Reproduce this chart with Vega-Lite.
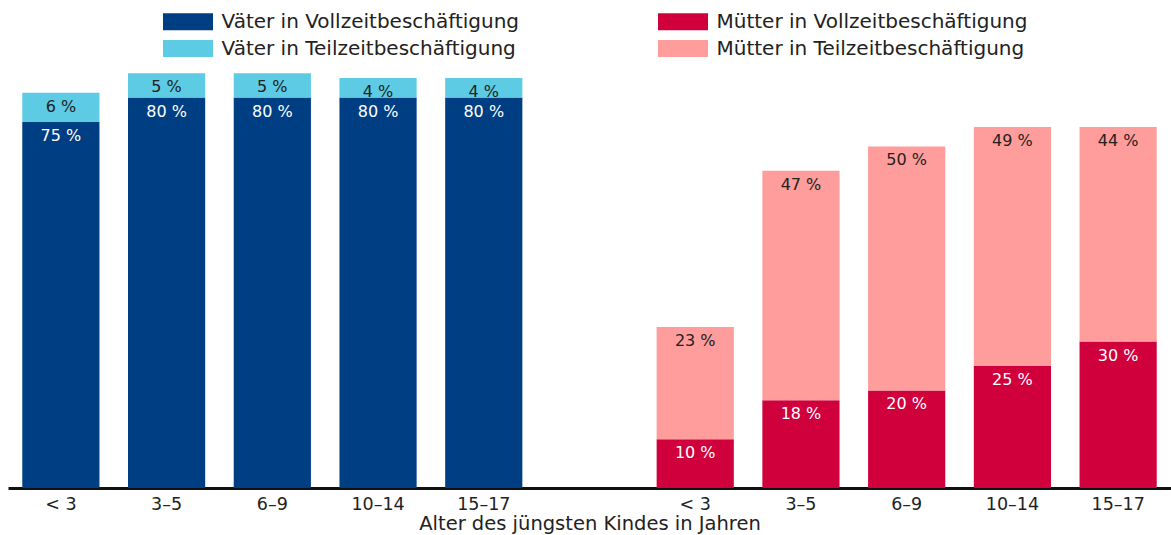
{
  "$schema": "https://vega.github.io/schema/vega-lite/v6.json",
  "width": 1163,
  "height": 488,
  "autosize": {"type": "none"},
  "padding": {"left": 8, "top": 0, "right": 0, "bottom": 47},
  "background": "white",
  "config": {"view": {"stroke": null}, "font": "DejaVu Sans"},
  "data": {
    "values": [
      {"slot": "V1", "type": "Väter in Vollzeitbeschäftigung", "ord": 0, "value": 75},
      {"slot": "V1", "type": "Väter in Teilzeitbeschäftigung", "ord": 1, "value": 6},
      {"slot": "V2", "type": "Väter in Vollzeitbeschäftigung", "ord": 0, "value": 80},
      {"slot": "V2", "type": "Väter in Teilzeitbeschäftigung", "ord": 1, "value": 5},
      {"slot": "V3", "type": "Väter in Vollzeitbeschäftigung", "ord": 0, "value": 80},
      {"slot": "V3", "type": "Väter in Teilzeitbeschäftigung", "ord": 1, "value": 5},
      {"slot": "V4", "type": "Väter in Vollzeitbeschäftigung", "ord": 0, "value": 80},
      {"slot": "V4", "type": "Väter in Teilzeitbeschäftigung", "ord": 1, "value": 4},
      {"slot": "V5", "type": "Väter in Vollzeitbeschäftigung", "ord": 0, "value": 80},
      {"slot": "V5", "type": "Väter in Teilzeitbeschäftigung", "ord": 1, "value": 4},
      {"slot": "M1", "type": "Mütter in Vollzeitbeschäftigung", "ord": 0, "value": 10},
      {"slot": "M1", "type": "Mütter in Teilzeitbeschäftigung", "ord": 1, "value": 23},
      {"slot": "M2", "type": "Mütter in Vollzeitbeschäftigung", "ord": 0, "value": 18},
      {"slot": "M2", "type": "Mütter in Teilzeitbeschäftigung", "ord": 1, "value": 47},
      {"slot": "M3", "type": "Mütter in Vollzeitbeschäftigung", "ord": 0, "value": 20},
      {"slot": "M3", "type": "Mütter in Teilzeitbeschäftigung", "ord": 1, "value": 50},
      {"slot": "M4", "type": "Mütter in Vollzeitbeschäftigung", "ord": 0, "value": 25},
      {"slot": "M4", "type": "Mütter in Teilzeitbeschäftigung", "ord": 1, "value": 49},
      {"slot": "M5", "type": "Mütter in Vollzeitbeschäftigung", "ord": 0, "value": 30},
      {"slot": "M5", "type": "Mütter in Teilzeitbeschäftigung", "ord": 1, "value": 44}
    ]
  },
  "transform": [
    {"stack": "value", "groupby": ["slot"], "sort": [{"field": "ord"}], "as": ["y0", "y1"]},
    {"calculate": "datum.value + ' %'", "as": "label"}
  ],
  "encoding": {
    "x": {
      "field": "slot",
      "type": "nominal",
      "scale": {
        "domain": ["V1", "V2", "V3", "V4", "V5", "gap", "M1", "M2", "M3", "M4", "M5"],
        "paddingInner": 0.27,
        "paddingOuter": 0.135
      },
      "axis": {
        "title": "Alter des jüngsten Kindes in Jahren",
        "titleFont": "DejaVu Sans",
        "titleFontSize": 19.5,
        "titleFontWeight": "normal",
        "titleColor": "#222",
        "titlePadding": 2,
        "labelExpr": "datum.value == 'gap' ? '' : ['< 3','3–5','6–9','10–14','15–17'][toNumber(substring(datum.value,1,2))-1]",
        "labelAngle": 0,
        "labelFont": "DejaVu Sans",
        "labelFontSize": 17.5,
        "labelColor": "#222",
        "labelPadding": 7,
        "ticks": false,
        "domainColor": "#111",
        "domainWidth": 3
      }
    }
  },
  "layer": [
    {
      "mark": {"type": "bar"},
      "encoding": {
        "y": {"field": "y1", "type": "quantitative", "scale": {"domain": [0, 99.2]}, "axis": null},
        "y2": {"field": "y0"},
        "color": {
          "field": "type",
          "type": "nominal",
          "scale": {
            "domain": ["Väter in Vollzeitbeschäftigung", "Väter in Teilzeitbeschäftigung", "Mütter in Vollzeitbeschäftigung", "Mütter in Teilzeitbeschäftigung"],
            "range": ["#003e84", "#5ccbe3", "#d0003c", "#ff9c9c"]
          },
          "legend": {
            "title": null,
            "orient": "none",
            "legendX": 155,
            "legendY": 9,
            "columns": 2,
            "columnPadding": 138,
            "rowPadding": 4,
            "symbolType": "M-2,-0.68H2V0.68H-2Z",
            "symbolSize": 625,
            "symbolOffset": 12.5,
            "symbolStrokeWidth": 0,
            "symbolOpacity": 1,
            "labelFont": "DejaVu Sans",
            "labelFontSize": 20,
            "labelColor": "#222",
            "labelOffset": 21,
            "labelLimit": 400
          }
        }
      }
    },
    {
      "mark": {"type": "text", "baseline": "middle", "dy": 14, "fontSize": 16, "font": "DejaVu Sans"},
      "encoding": {
        "y": {"field": "y1", "type": "quantitative"},
        "text": {"field": "label"},
        "color": {
          "condition": {"test": "datum.ord == 0", "value": "white"},
          "value": "#222"
        }
      }
    }
  ]
}
